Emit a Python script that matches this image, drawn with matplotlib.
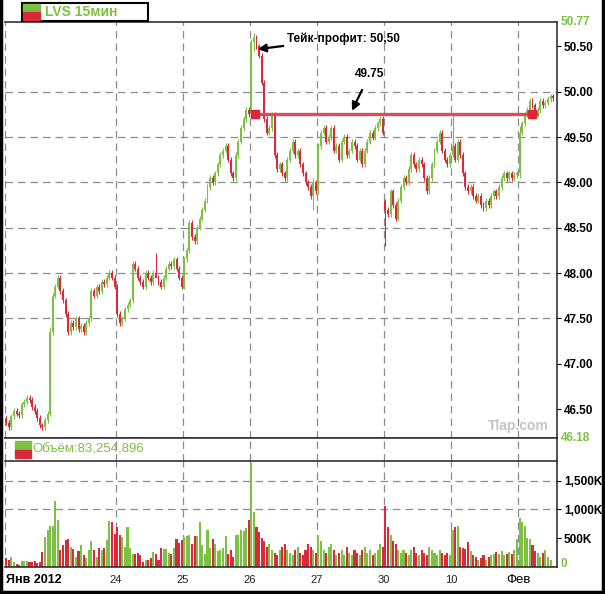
import matplotlib

matplotlib.use("Agg")
import matplotlib.pyplot as plt
from matplotlib.lines import Line2D
from matplotlib.patches import Rectangle

plt.rcParams["font.family"] = ["Liberation Sans", "DejaVu Sans"]

GREEN = "#7dc142"
RED = "#d92a3c"
GRID = "#8c8c8c"

# 15-minute closes, LVS, 20 Jan - 1 Feb 2012
closes = [
    # tail of 20 Jan
    46.35, 46.30, 46.42, 46.48, 46.45, 46.43, 46.55, 46.58, 46.62, 46.60,
    46.52, 46.48, 46.40, 46.32, 46.30, 46.38, 46.45,
    # 23 Jan
    47.35, 47.75, 47.85, 47.95, 47.80, 47.70, 47.55, 47.35, 47.45, 47.40,
    47.50, 47.38, 47.42, 47.35, 47.45, 47.50, 47.80, 47.75, 47.85, 47.80,
    47.90, 47.88, 47.95, 48.00, 47.95, 47.85,
    # 24 Jan
    47.55, 47.45, 47.50, 47.60, 47.65, 47.70, 48.10, 48.05, 47.95, 47.90,
    47.85, 48.00, 47.95, 47.90, 48.00, 47.95, 47.90, 47.85, 47.95, 48.05,
    48.10, 48.08, 48.15, 48.05, 47.95, 47.85,
    # 25 Jan
    48.15, 48.25, 48.55, 48.40, 48.35, 48.50, 48.60, 48.70, 48.80, 48.95,
    49.05, 49.00, 49.10, 49.20, 49.30, 49.35, 49.40, 49.25, 49.10, 49.05,
    49.30, 49.45, 49.60, 49.70, 49.80, 49.75,
    # 26 Jan
    50.55, 50.60, 50.50, 50.40, 50.10, 49.70, 49.55, 49.60, 49.75, 49.30,
    49.15, 49.20, 49.10, 49.05, 49.25, 49.35, 49.45, 49.30, 49.35, 49.20,
    49.10, 49.00, 48.95, 48.85, 49.00, 48.90,
    # 27 Jan
    49.40, 49.55, 49.60, 49.45, 49.50, 49.60, 49.35, 49.40, 49.25, 49.45,
    49.50, 49.30, 49.35, 49.45, 49.40, 49.25, 49.35, 49.20, 49.35, 49.45,
    49.55, 49.50, 49.60, 49.65, 49.70, 49.55,
    # 30 Jan
    48.70, 48.65, 48.90, 48.75, 48.60, 48.80, 48.95, 49.05, 49.00, 49.15,
    49.30, 49.20, 49.15, 49.25, 49.20, 49.05, 48.90, 49.05, 49.20, 49.35,
    49.45, 49.55, 49.35, 49.25, 49.20, 49.30,
    # 31 Jan
    49.40, 49.25, 49.45, 49.30, 49.10, 48.95, 48.90, 48.95, 48.85, 48.80,
    48.85, 48.75, 48.72, 48.80, 48.75, 48.85, 48.90, 48.85, 48.95, 49.05,
    49.10, 49.05, 49.10, 49.05, 49.08, 49.10,
    # 1 Feb
    49.55, 49.65, 49.75, 49.80, 49.90, 49.85, 49.75, 49.80, 49.90, 49.85,
    49.88, 49.92, 49.95, 49.93,
]
first_open = 46.40
gap_opens = {17: 46.45, 95: 49.80, 147: 48.80, 173: 49.30}
long_wicks = {17: (46.42, 47.40), 58: (47.98, 48.22), 96: (50.45, 50.65),
              119: (48.70, 49.05), 147: (48.30, 48.82),
              173: (49.28, 49.76), 199: (49.05, 49.62)}

# volume in thousands of shares
volumes = [
    150, 120, 180, 90, 60, 40, 110, 100, 110, 90, 80, 110, 70, 90, 260, 520, 640,
    720, 720, 1150, 810, 290, 375, 460, 490, 350, 320, 170, 280, 380, 200, 150,
    300, 450, 300, 180, 330, 300, 330, 470, 800, 780, 580,
    690, 550, 520, 350, 690, 330, 230, 230, 240, 210, 90, 120, 120, 160, 260,
    230, 120, 330, 320, 320, 240, 230, 330, 480, 420, 460,
    520, 540, 560, 400, 540, 540, 780, 380, 230, 640, 330, 480, 400, 270, 300,
    330, 540, 230, 300, 180, 560, 560, 650, 620, 680, 810,
    1800, 950, 700, 600, 500, 450, 350, 400, 300, 250, 200, 300, 350, 400, 300,
    250, 200, 300, 350, 250, 200, 300, 400, 350, 300, 250,
    550, 450, 300, 250, 350, 400, 300, 200, 250, 300, 200, 350, 250, 200, 300,
    250, 200, 300, 350, 250, 300, 200, 250, 300, 400, 350,
    1050, 700, 550, 450, 400, 300, 250, 300, 250, 200, 300, 350, 250, 200, 300,
    250, 200, 350, 300, 250, 200, 300, 250, 200, 250, 200,
    640, 690, 720, 350, 330, 310, 440, 280, 200, 170, 130, 150, 200, 130, 170,
    200, 230, 260, 230, 280, 200, 220, 260, 230, 300, 480,
    850, 780, 720, 510, 480, 380, 280, 250, 180, 250, 300, 170, 120, 20,
]

day_starts = [0, 43, 69, 95, 121, 147, 173, 199]
day_labels = ["Янв 2012", "24", "25", "26", "27", "30", "10", "Фев"]
price_ticks = [46.5, 47.0, 47.5, 48.0, 48.5, 49.0, 49.5, 50.0, 50.5]
price_grid = [47.5, 48.0, 48.5, 49.0, 49.5, 50.0]
vol_ticks = [500, 1000, 1500]
take_profit = 50.50
stop_level = 49.75

opens = [first_open] + closes[:-1]
for i, o in gap_opens.items():
    opens[i] = o
n = len(closes)
idx = list(range(n))
up = [c >= o for o, c in zip(opens, closes)]
colors = [GREEN if u else RED for u in up]

fig = plt.figure(figsize=(6.05, 5.94), dpi=100)
ax = fig.add_axes([0.00826, 0.2626, 0.9124, 0.7004])
strip = fig.add_axes([0.00826, 0.2239, 0.9124, 0.0387])
vax = fig.add_axes([0.00826, 0.04545, 0.9124, 0.1785])

xmin, xmax = -0.5, 213.5
for a in (ax, strip, vax):
    a.set_xlim(xmin, xmax)
    for d in day_starts:
        a.axvline(d - 0.5, color=GRID, lw=0.9, ls=(0, (6, 4)), zorder=0)
    a.spines["left"].set_visible(False)
    for s in ("top", "right", "bottom"):
        a.spines[s].set_color("#333333")
        a.spines[s].set_linewidth(1.2)
    a.set_xticks([])

# candles
for i in idx:
    o, c = opens[i], closes[i]
    lo, hi = long_wicks.get(i, (min(o, c) - 0.03, max(o, c) + 0.03))
    ax.vlines(i, lo, hi, color=colors[i], lw=0.8, zorder=2)
    body = max(abs(c - o), 0.015)
    ax.bar(i, body, bottom=min(o, c), width=0.75, color=colors[i],
           lw=0, zorder=3)

for p in price_grid:
    ax.axhline(p, color=GRID, lw=0.9, ls=(0, (6, 4)), zorder=0)
ax.set_ylim(46.18, 50.77)
ax.yaxis.tick_right()
ax.set_yticks(price_ticks)
ax.set_yticklabels([f"{p:.2f}" for p in price_ticks], fontsize=8.5,
                   fontweight="bold")
ax.tick_params(axis="y", length=3, width=0.8, pad=2)
for y, lab in ((50.77, "50.77"), (46.18, "46.18")):
    ax.text(1.007, (y - 46.18) / (50.77 - 46.18), lab, transform=ax.transAxes,
            color=GREEN, fontsize=8.5, fontweight="bold", va="center",
            ha="left")

# 49.75 level line with markers
ax.plot([95, 206], [stop_level, stop_level], color="#e04b55", lw=2.4,
        zorder=4, solid_capstyle="butt")
ax.plot([96.5, 203.8], [stop_level, stop_level], ls="none", marker="s",
        ms=6, color="#e02334", zorder=5)

ax.annotate("Тейк-профит: 50,50", xy=(97.5, 50.47), xytext=(109, 50.59),
            fontsize=8.5, fontweight="bold", va="center", ha="left",
            arrowprops=dict(arrowstyle="-|>", color="black", lw=1.6,
                            mutation_scale=12, shrinkA=1, shrinkB=0))
ax.annotate("49.75", xy=(134, 49.79), xytext=(141, 50.2),
            fontsize=8.5, fontweight="bold", va="center", ha="center",
            arrowprops=dict(arrowstyle="-|>", color="black", lw=1.6,
                            mutation_scale=12, shrinkA=6, shrinkB=0))
ax.text(0.985, 0.012, "Tlap.com", transform=ax.transAxes, color="#c4c4c4",
        fontsize=10, fontweight="bold", ha="right", va="bottom")

# volume legend strip
strip.set_ylim(0, 1)
strip.set_yticks([])
strip.spines["bottom"].set_visible(False)
strip.add_patch(Rectangle((0.019, 0.5), 0.028, 0.38, transform=strip.transAxes,
                          color=GREEN, zorder=3))
strip.add_patch(Rectangle((0.019, 0.12), 0.028, 0.38, transform=strip.transAxes,
                          color=RED, zorder=3))
strip.text(0.05, 0.5, "Объём:83,254,896", transform=strip.transAxes,
           color=GREEN, fontsize=9.5, va="center", ha="left", zorder=3)

# volume bars
for v in (1000, 1500):
    vax.axhline(v, color=GRID, lw=0.9, ls=(0, (6, 4)), zorder=0)
vax.bar(idx, volumes, width=0.8, color=colors, lw=0, zorder=2)
vax.set_ylim(0, 1840)
vax.yaxis.tick_right()
vax.set_yticks(vol_ticks)
vax.set_yticklabels([f"{v:,}K" for v in vol_ticks], fontsize=8.5,
                    fontweight="bold")
vax.tick_params(axis="y", length=3, width=0.8, pad=2)
vax.text(1.007, 0.03, "0", transform=vax.transAxes, color=GREEN,
         fontsize=8.5, fontweight="bold", va="center", ha="left")

# day labels below the volume panel
for d, lab in zip(day_starts, day_labels):
    x = d - 0.5
    if d == 0:
        vax.text(x + 0.3, -0.12, lab, transform=vax.get_xaxis_transform(),
                 fontsize=9, fontweight="bold", ha="left", va="center")
    elif lab == "Фев":
        vax.text(x, -0.12, lab, transform=vax.get_xaxis_transform(),
                 fontsize=9.5, ha="center", va="center")
    else:
        vax.text(x, -0.12, lab, transform=vax.get_xaxis_transform(),
                 fontsize=8, ha="center", va="center", color="#222222")

# title box
fig.patches.append(Rectangle((22 / 605, 1 - 21 / 594), 126 / 605, 18 / 594,
                             transform=fig.transFigure, fc="white",
                             ec="black", lw=1.5))
fig.patches.append(Rectangle((23 / 605, 1 - 12 / 594), 17 / 605, 8 / 594,
                             transform=fig.transFigure, color=GREEN))
fig.patches.append(Rectangle((23 / 605, 1 - 20 / 594), 17 / 605, 8 / 594,
                             transform=fig.transFigure, color=RED))
fig.text(45 / 605, 1 - 12 / 594, "LVS 15мин", color=GREEN, fontsize=10,
         fontweight="bold", va="center", ha="left")

# outer frame
for xs, ys in (([0.002, 0.002], [0, 1]), ([0.997, 0.997], [0, 1]),
               ([0, 1], [0.004, 0.004])):
    fig.add_artist(Line2D(xs, ys, color="black", lw=2.5,
                          transform=fig.transFigure))

fig.savefig("out.png", dpi=100)
